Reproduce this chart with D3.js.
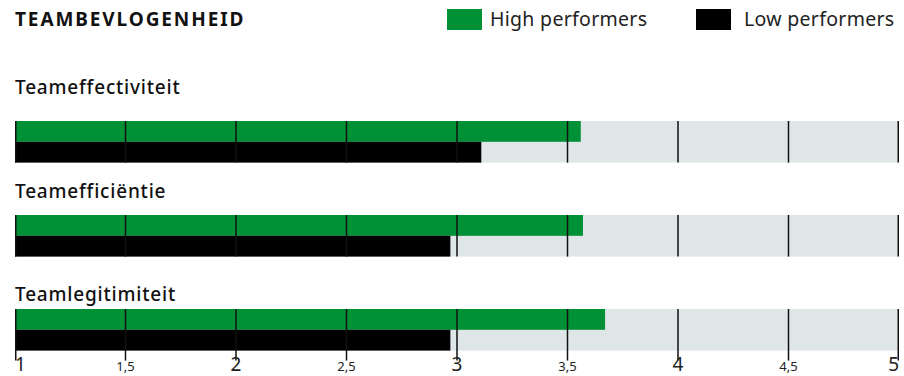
<!DOCTYPE html>
<html>
<head>
<meta charset="utf-8">
<script src="https://cdn.jsdelivr.net/npm/d3@7/dist/d3.min.js"></script>
<style>
  html, body { margin: 0; padding: 0; background: #fff; }
  svg { display: block; font-family: "Noto Sans", Lato, sans-serif; }
</style>
</head>
<body>
<svg id="chart" width="904" height="376"></svg>
<script>
// Scores per dimension (scale 1–5)
const categories = ["Teameffectiviteit", "Teamefficiëntie", "Teamlegitimiteit"];
const highPerformers = [3.56, 3.57, 3.67];
const lowPerformers = [3.11, 2.97, 2.97];
const seriesNames = ["High performers", "Low performers"];
const tickValues = [1, 1.5, 2, 2.5, 3, 3.5, 4, 4.5, 5];
const tickLabels = ["1", "1,5", "2", "2,5", "3", "3,5", "4", "4,5", "5"];

const colors = { high: "#009036", low: "#000000", track: "#dfe6e8", tick: "#111" };

const svg = d3.select("#chart");

const x = d3.scaleLinear().domain([1, 5]).range([15, 899]);

// row positions: top of each bar group and where its label sits
const rowTop = d3.scaleOrdinal().domain(categories).range([121, 215, 309]);
const labelBaseline = d3.scaleOrdinal().domain(categories).range([94, 198, 301]);
const barH = 20.8;

// title
svg.append("text")
  .attr("x", 15).attr("y", 26)
  .attr("font-size", 19).attr("font-weight", 700)
  .attr("letter-spacing", 1.9)
  .attr("fill", "#111")
  .text("TEAMBEVLOGENHEID");

// legend
const legend = svg.append("g");
const legendItems = [
  { name: seriesNames[0], color: colors.high, x: 447, tx: 490 },
  { name: seriesNames[1], color: colors.low, x: 696, tx: 744 }
];
legend.selectAll("rect").data(legendItems).join("rect")
  .attr("x", d => d.x).attr("y", 9)
  .attr("width", 35).attr("height", 21)
  .attr("fill", d => d.color);
legend.selectAll("text").data(legendItems).join("text")
  .attr("x", d => d.tx).attr("y", 26)
  .attr("font-size", 19.5)
  .attr("letter-spacing", 0.3)
  .attr("fill", "#222")
  .text(d => d.name);

// category labels
svg.selectAll("text.cat").data(categories).join("text")
  .attr("class", "cat")
  .attr("x", 15).attr("y", d => labelBaseline(d))
  .attr("font-size", 19).attr("font-weight", 500)
  .attr("letter-spacing", 0.8)
  .attr("fill", "#111")
  .text(d => d);

const rows = svg.selectAll("g.row").data(categories.map((c, i) => ({
  cat: c, high: highPerformers[i], low: lowPerformers[i], last: i === categories.length - 1
}))).join("g").attr("class", "row");

// background track
rows.append("rect")
  .attr("x", x(1)).attr("y", d => rowTop(d.cat))
  .attr("width", x(5) - x(1)).attr("height", barH * 2)
  .attr("fill", colors.track);

rows.append("rect")
  .attr("x", x(1)).attr("y", d => rowTop(d.cat))
  .attr("width", d => x(d.high) - x(1)).attr("height", barH)
  .attr("fill", colors.high);

rows.append("rect")
  .attr("x", x(1)).attr("y", d => rowTop(d.cat) + barH)
  .attr("width", d => x(d.low) - x(1)).attr("height", barH)
  .attr("fill", colors.low);

// gridlines across each row (the last row's extend down to the axis labels)
rows.each(function(d) {
  d3.select(this).selectAll("line").data(tickValues).join("line")
    .attr("x1", v => x(v) + (v === 1 ? 0.75 : v === 5 ? -0.75 : 0))
    .attr("x2", v => x(v) + (v === 1 ? 0.75 : v === 5 ? -0.75 : 0))
    .attr("y1", rowTop(d.cat))
    .attr("y2", rowTop(d.cat) + barH * 2 + (d.last ? 10 : 0))
    .attr("stroke", colors.tick).attr("stroke-width", 1.5);
});

// axis labels
const axis = svg.append("g");
axis.selectAll("text").data(tickValues).join("text")
  .attr("x", v => x(v))
  .attr("y", 371)
  .attr("text-anchor", v => v === 1 ? "start" : v === 5 ? "end" : "middle")
  .attr("font-size", v => Number.isInteger(v) ? 19 : 13)
  .attr("fill", "#222")
  .text((v, i) => tickLabels[i]);
</script>
</body>
</html>
